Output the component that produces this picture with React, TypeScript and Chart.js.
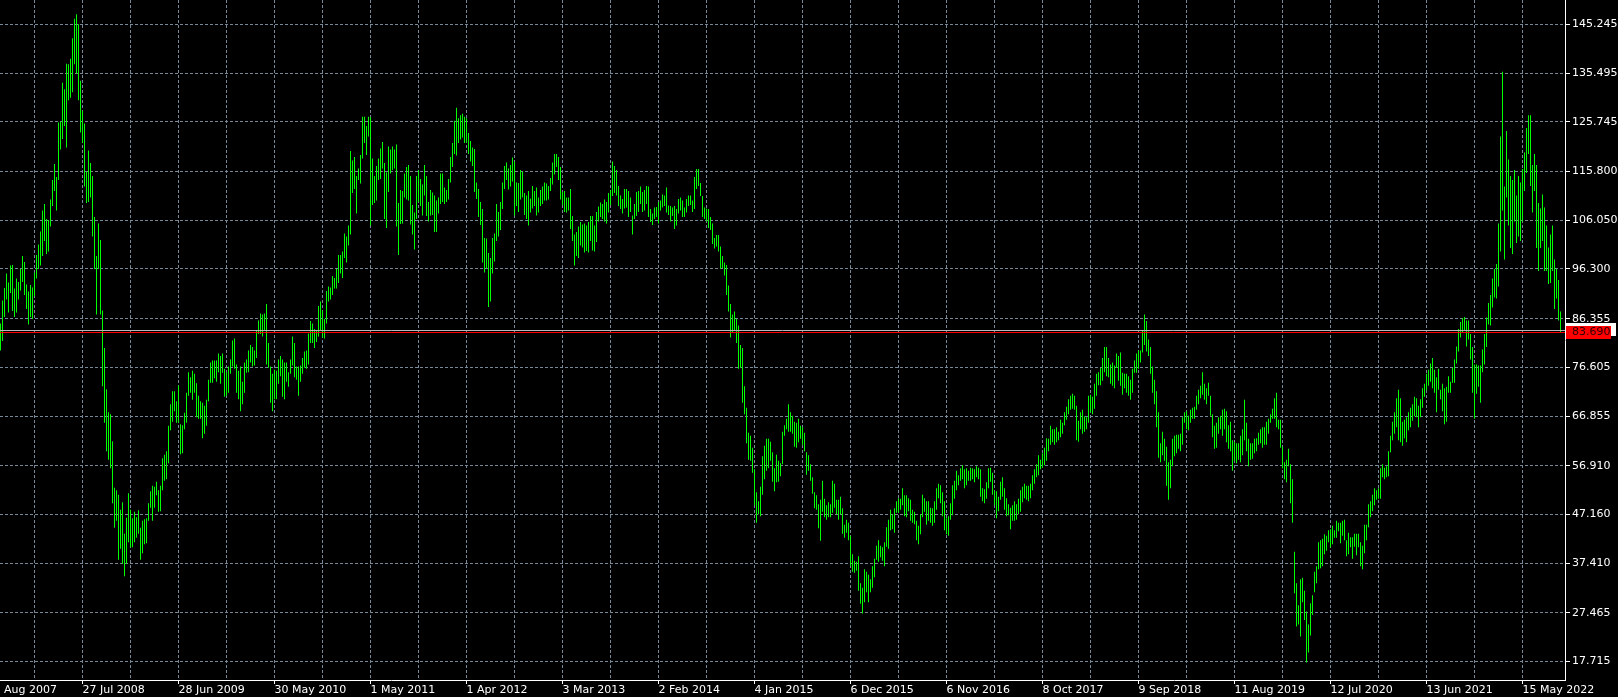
import React, { useEffect, useRef } from 'react';
import { Chart, registerables } from 'chart.js';

Chart.register(...registerables);

// Date labels on the time axis (one every 48 weekly bars, first one at bar -7)
const xTickLabels = [
  '26 Aug 2007', '27 Jul 2008', '28 Jun 2009', '30 May 2010', '1 May 2011', '1 Apr 2012',
  '3 Mar 2013', '2 Feb 2014', '4 Jan 2015', '6 Dec 2015', '6 Nov 2016', '8 Oct 2017',
  '9 Sep 2018', '11 Aug 2019', '12 Jul 2020', '13 Jun 2021', '15 May 2022',
];
const FIRST_LABEL_BAR = -7;
const GRID_STEP_BARS = 24;
const LABEL_STEP_BARS = 48;

// Price axis labels
const yTickLabels = [
  '145.245', '135.495', '125.745', '115.800', '106.050', '96.300', '86.355',
  '76.605', '66.855', '56.910', '47.160', '37.410', '27.465', '17.715',
];

// Weekly bar highs
const barHighs = [
  85.4, 90.0, 92.5, 95.4, 93.6, 97.0, 97.1, 92.4, 94.4, 93.7,
  96.3, 98.9, 97.7, 93.2, 91.8, 93.1, 92.6, 95.6, 99.1, 101.2,
  103.8, 108.0, 109.3, 106.3, 106.1, 110.2, 114.1, 117.3, 114.7, 125.6,
  125.8, 133.6, 132.3, 137.4, 137.3, 138.4, 142.5, 146.4, 147.3, 145.3,
  134.0, 128.0, 125.4, 115.8, 120.0, 117.5, 114.9, 106.7, 98.9, 105.4,
  102.1, 88.0, 80.5, 72.2, 67.6, 67.2, 61.8, 52.5, 52.0, 51.1,
  48.1, 49.6, 43.3, 46.5, 51.4, 48.1, 46.4, 47.7, 46.6, 48.0,
  44.5, 45.9, 46.2, 46.4, 49.4, 51.8, 52.9, 52.7, 53.7, 52.0,
  52.9, 58.4, 59.1, 59.8, 64.9, 69.2, 71.8, 71.8, 69.8, 73.0,
  65.2, 65.0, 67.5, 71.5, 75.6, 74.6, 75.9, 75.3, 73.4, 70.9,
  69.8, 69.5, 68.9, 70.1, 74.1, 77.6, 78.0, 78.0, 78.0, 79.4,
  78.9, 79.4, 76.3, 75.6, 76.8, 78.2, 82.0, 82.4, 77.2, 75.9,
  76.8, 73.7, 77.6, 78.2, 80.0, 81.1, 80.7, 80.0, 83.9, 86.0,
  87.4, 87.2, 87.4, 89.3, 81.5, 76.8, 75.3, 76.1, 75.9, 78.2,
  78.9, 78.2, 77.6, 77.6, 75.6, 78.2, 82.8, 81.5, 76.8, 76.8,
  77.0, 78.5, 79.8, 80.0, 83.4, 85.9, 85.4, 84.3, 84.1, 88.9,
  89.8, 88.0, 86.3, 91.9, 92.8, 92.6, 94.9, 94.5, 96.3, 99.1,
  99.1, 99.8, 103.4, 102.8, 105.0, 119.9, 118.0, 118.7, 114.9, 116.4,
  119.1, 126.8, 126.8, 124.9, 126.8, 126.7, 118.4, 114.9, 116.9, 118.4,
  120.4, 121.7, 117.5, 115.6, 120.8, 120.2, 120.8, 120.2, 121.2, 109.5,
  112.1, 111.9, 115.4, 116.7, 117.1, 114.9, 109.1, 107.6, 114.9, 116.1,
  114.3, 113.2, 117.1, 114.9, 109.7, 112.1, 111.6, 111.0, 110.0, 110.6,
  115.4, 115.4, 112.6, 112.1, 114.3, 118.7, 121.5, 126.0, 128.6, 126.5,
  127.1, 127.4, 126.8, 126.5, 123.5, 121.9, 120.6, 120.3, 113.6, 112.3,
  109.7, 108.3, 102.5, 102.4, 99.5, 98.5, 102.5, 103.4, 109.3, 107.7,
  109.7, 113.6, 116.9, 117.6, 116.4, 117.1, 118.6, 117.8, 113.6, 113.5,
  116.1, 115.8, 111.5, 111.0, 111.9, 110.4, 112.9, 111.9, 112.6, 110.6,
  112.1, 112.8, 113.6, 113.4, 112.9, 114.5, 117.6, 119.3, 119.3, 118.7,
  116.7, 111.7, 111.9, 110.6, 110.6, 112.3, 106.9, 103.2, 103.7, 104.8,
  105.7, 105.2, 105.4, 105.0, 105.7, 106.9, 106.9, 105.0, 107.7, 108.8,
  109.6, 109.3, 110.2, 109.7, 111.5, 112.1, 117.8, 116.9, 116.1, 112.9,
  111.0, 110.3, 112.3, 112.3, 111.9, 110.6, 107.0, 109.3, 111.7, 111.9,
  112.8, 111.7, 112.1, 112.9, 112.8, 108.3, 107.4, 108.6, 108.7, 109.7,
  110.0, 111.2, 111.0, 112.6, 109.0, 108.9, 108.6, 108.9, 108.3, 110.3,
  110.6, 110.0, 108.6, 110.3, 111.0, 111.0, 110.0, 114.7, 116.3, 116.3,
  113.5, 110.9, 108.6, 108.4, 108.3, 106.7, 105.4, 102.5, 103.1, 103.1,
  100.8, 98.9, 97.6, 97.1, 93.0, 89.3, 87.2, 87.8, 86.3, 85.0,
  81.1, 80.5, 72.8, 68.5, 63.5, 62.9, 60.5, 56.2, 51.6, 49.8,
  52.7, 58.8, 60.9, 62.3, 62.3, 61.7, 59.6, 56.4, 59.1, 57.9,
  57.4, 63.7, 65.0, 66.3, 69.2, 67.6, 66.9, 65.7, 65.5, 66.3,
  64.9, 64.6, 63.5, 59.6, 59.0, 57.2, 54.6, 51.6, 51.0, 49.2,
  50.1, 53.9, 50.3, 49.0, 49.6, 49.2, 53.9, 53.3, 50.1, 50.1,
  50.7, 48.4, 45.1, 46.1, 45.5, 42.9, 39.2, 37.9, 37.7, 38.8,
  33.4, 32.5, 36.2, 35.7, 35.1, 34.2, 36.8, 38.3, 40.9, 42.0,
  40.9, 40.6, 41.6, 44.6, 46.1, 48.1, 47.2, 48.4, 49.8, 50.4,
  50.3, 52.4, 51.0, 51.0, 50.4, 50.1, 48.1, 47.7, 45.9, 44.9,
  47.2, 51.1, 50.4, 49.8, 49.8, 48.5, 48.4, 49.8, 52.4, 53.3,
  53.0, 51.6, 49.8, 46.4, 46.8, 49.4, 53.0, 53.9, 55.9, 55.0,
  56.4, 57.0, 56.2, 56.4, 55.9, 56.5, 56.4, 56.2, 56.8, 56.5,
  56.2, 52.4, 52.2, 53.6, 56.4, 56.5, 55.5, 52.0, 51.8, 50.7,
  53.7, 54.6, 52.4, 50.4, 49.2, 48.5, 49.0, 49.8, 49.2, 50.3,
  52.0, 52.7, 53.3, 52.9, 52.9, 53.3, 55.0, 56.2, 57.2, 59.0,
  58.1, 59.4, 60.5, 62.4, 62.3, 64.9, 64.2, 64.2, 64.6, 63.7,
  66.1, 65.5, 67.6, 68.7, 70.2, 70.9, 71.3, 70.9, 68.9, 65.9,
  67.6, 68.1, 66.8, 66.6, 70.9, 71.1, 70.7, 73.3, 75.3, 75.6,
  76.5, 78.5, 80.7, 80.7, 78.5, 77.2, 77.6, 77.0, 79.4, 78.9,
  79.6, 75.5, 75.3, 75.3, 74.8, 74.1, 76.3, 78.0, 79.4, 80.0,
  80.0, 84.0, 87.2, 85.9, 82.2, 80.7, 76.8, 74.1, 71.8, 67.6,
  61.4, 63.7, 62.3, 60.7, 57.6, 58.1, 62.3, 62.9, 63.1, 63.1,
  63.3, 66.6, 67.6, 67.8, 66.9, 68.1, 68.5, 68.7, 70.9, 72.1,
  72.9, 75.6, 73.3, 72.4, 73.5, 70.9, 67.2, 64.9, 65.5, 66.6,
  66.9, 68.1, 68.3, 67.8, 65.0, 65.7, 62.0, 61.6, 61.4, 61.4,
  62.9, 64.2, 70.1, 65.5, 62.3, 61.4, 61.4, 62.3, 62.4, 63.5,
  64.2, 64.6, 64.6, 65.7, 66.3, 67.2, 68.3, 70.4, 71.5, 66.1,
  66.1, 60.7, 57.6, 58.1, 60.3, 57.2, 54.2, 39.7, 33.4, 29.0,
  34.2, 34.5, 31.9, 27.7, 25.1, 29.4, 31.0, 35.7, 36.8, 41.6,
  42.0, 42.3, 43.2, 42.9, 44.0, 44.2, 44.9, 44.0, 45.9, 45.5,
  45.5, 45.9, 46.1, 42.0, 43.5, 42.6, 42.6, 43.3, 43.3, 43.3,
  41.6, 40.9, 45.1, 45.1, 49.2, 49.8, 51.1, 52.4, 52.0, 52.4,
  56.4, 57.2, 56.5, 56.8, 59.8, 62.9, 65.7, 67.6, 70.4, 72.1,
  70.4, 65.7, 66.1, 66.6, 67.6, 68.5, 69.2, 70.7, 70.4, 68.9,
  70.2, 72.4, 73.3, 75.3, 76.1, 77.4, 78.5, 76.1, 74.6, 76.3,
  72.1, 73.3, 72.4, 72.7, 74.8, 73.7, 76.5, 78.2, 80.8, 84.3,
  85.7, 86.5, 86.7, 86.0, 86.0, 83.3, 80.7, 77.2, 77.2, 77.0,
  77.0, 80.2, 83.3, 86.6, 89.5, 91.1, 94.4, 96.3, 97.3, 105.4,
  122.8, 135.8, 112.8, 123.9, 118.2, 114.9, 114.1, 116.1, 111.0, 114.9,
  113.6, 116.3, 119.6, 124.5, 127.1, 127.1, 117.1, 119.3, 117.1, 109.5,
  108.4, 111.2, 108.6, 105.0, 100.6, 103.2, 105.0, 98.2, 96.3, 94.1,
  87.8,
];

// Weekly bar lows
const barLows = [
  80.0, 81.9, 86.7, 90.2, 87.6, 91.5, 87.9, 86.7, 87.6, 90.2,
  92.0, 93.7, 91.1, 88.3, 85.2, 86.7, 86.3, 90.9, 94.4, 96.3,
  97.0, 98.9, 101.9, 99.3, 99.8, 104.8, 108.9, 111.9, 108.0, 114.1,
  120.2, 122.3, 124.9, 120.6, 130.1, 130.6, 131.7, 137.3, 135.4, 130.1,
  123.6, 121.5, 112.8, 109.5, 109.7, 110.6, 102.8, 96.3, 87.2, 96.3,
  87.2, 72.8, 65.5, 59.8, 58.1, 56.4, 49.4, 44.5, 45.9, 38.1,
  40.3, 37.3, 34.8, 37.3, 41.6, 40.6, 40.6, 41.6, 42.5, 43.3,
  38.1, 39.4, 41.2, 41.4, 45.9, 48.5, 45.9, 48.5, 51.0, 47.7,
  47.8, 52.0, 53.9, 54.2, 57.4, 64.0, 65.7, 67.8, 65.5, 65.5,
  59.2, 59.4, 64.2, 65.5, 70.9, 71.5, 70.1, 71.5, 66.6, 66.3,
  66.3, 62.4, 63.3, 64.9, 69.8, 73.5, 73.5, 74.4, 73.7, 75.6,
  73.3, 75.5, 70.7, 70.9, 71.5, 75.3, 76.8, 76.3, 71.5, 70.2,
  67.8, 69.2, 71.5, 75.5, 75.6, 77.6, 76.8, 77.0, 78.5, 83.3,
  83.3, 82.8, 84.1, 77.2, 76.5, 69.5, 67.8, 70.2, 70.2, 73.3,
  74.8, 70.7, 70.2, 73.7, 72.7, 75.3, 77.0, 74.6, 74.1, 70.9,
  73.7, 75.3, 76.5, 76.3, 77.2, 81.5, 81.5, 80.5, 81.7, 82.8,
  84.1, 82.6, 82.4, 85.4, 89.8, 90.2, 91.1, 92.4, 92.4, 93.5,
  95.4, 94.5, 98.5, 97.6, 101.0, 103.2, 111.5, 112.3, 107.4, 114.1,
  113.4, 118.4, 121.5, 119.1, 122.8, 105.0, 109.1, 109.5, 110.0, 114.1,
  114.3, 116.4, 106.3, 104.5, 111.7, 115.4, 116.1, 116.4, 104.8, 99.1,
  105.3, 105.4, 110.6, 110.2, 110.0, 105.2, 103.2, 100.2, 106.3, 109.7,
  108.9, 107.0, 111.0, 106.9, 105.8, 107.0, 107.1, 103.7, 103.7, 107.4,
  109.3, 109.7, 109.3, 109.7, 110.2, 113.6, 116.7, 119.3, 119.0, 121.5,
  122.2, 122.6, 121.5, 121.6, 119.3, 117.8, 116.9, 111.7, 110.3, 106.7,
  105.1, 97.6, 95.6, 96.5, 88.7, 89.8, 95.4, 97.8, 101.9, 102.8,
  104.1, 108.3, 112.3, 114.1, 112.2, 112.8, 113.8, 107.0, 108.9, 107.7,
  110.2, 110.6, 107.1, 106.3, 105.0, 107.6, 108.4, 108.9, 107.0, 107.6,
  108.9, 109.3, 110.0, 110.0, 110.2, 111.9, 113.2, 115.2, 116.7, 114.1,
  110.2, 109.1, 107.7, 107.6, 108.0, 104.3, 101.9, 97.0, 98.9, 98.5,
  101.0, 100.6, 99.6, 99.9, 99.6, 101.9, 100.0, 99.8, 101.7, 105.8,
  106.7, 106.3, 105.8, 105.4, 107.6, 109.1, 110.9, 111.5, 111.0, 108.9,
  108.3, 107.4, 108.4, 108.6, 106.7, 107.7, 103.2, 106.3, 106.9, 107.7,
  109.3, 107.7, 108.0, 109.3, 106.7, 105.7, 105.1, 106.3, 106.7, 105.4,
  108.0, 108.6, 108.9, 107.6, 107.1, 105.8, 106.9, 104.3, 105.0, 107.4,
  108.0, 106.7, 106.7, 107.6, 108.9, 109.1, 107.7, 108.3, 112.3, 112.9,
  110.9, 106.7, 106.3, 105.8, 104.5, 104.1, 101.3, 100.4, 100.8, 99.8,
  96.3, 96.5, 95.0, 91.1, 87.8, 82.6, 83.7, 84.0, 81.5, 76.3,
  76.5, 69.5, 67.2, 61.4, 58.1, 57.9, 55.5, 49.0, 45.5, 47.2,
  46.8, 51.1, 54.2, 55.9, 56.4, 57.9, 53.7, 51.8, 53.6, 53.7,
  54.8, 57.2, 62.9, 64.2, 63.7, 63.7, 63.3, 60.7, 60.5, 61.6,
  62.3, 61.1, 59.8, 55.1, 55.9, 53.9, 51.3, 48.4, 48.1, 44.4,
  41.9, 47.7, 46.6, 46.1, 46.6, 46.6, 47.5, 48.5, 47.2, 46.1,
  47.2, 43.3, 42.5, 43.5, 42.0, 36.8, 35.7, 35.5, 35.9, 31.9,
  29.3, 27.3, 29.6, 31.6, 29.6, 31.6, 32.5, 34.6, 38.1, 37.7,
  38.6, 37.9, 36.8, 40.7, 40.3, 44.0, 44.2, 43.5, 47.5, 47.5,
  48.1, 49.0, 46.8, 46.6, 47.8, 45.9, 45.5, 45.2, 42.0, 41.2,
  43.2, 46.6, 47.7, 45.1, 45.9, 45.5, 44.9, 45.5, 48.1, 50.4,
  49.4, 46.8, 44.0, 43.2, 42.9, 46.1, 47.0, 50.3, 52.0, 53.0,
  53.9, 54.2, 52.4, 53.0, 53.9, 53.9, 54.2, 53.6, 54.6, 54.2,
  50.7, 49.8, 49.4, 50.3, 52.4, 53.7, 51.1, 49.0, 46.4, 47.8,
  50.1, 50.7, 48.1, 46.8, 47.0, 44.2, 45.9, 45.9, 46.1, 47.2,
  47.7, 49.6, 50.4, 50.1, 49.8, 50.4, 52.0, 53.3, 54.6, 55.0,
  56.2, 56.5, 57.0, 57.9, 59.8, 61.1, 61.6, 61.1, 61.6, 62.0,
  62.6, 63.3, 65.0, 66.1, 67.2, 68.1, 68.3, 68.1, 62.0, 61.7,
  64.2, 63.3, 63.7, 64.2, 65.5, 67.6, 67.2, 68.3, 70.9, 73.0,
  73.0, 73.9, 75.6, 74.8, 74.6, 73.3, 72.9, 72.4, 76.5, 73.9,
  72.9, 71.1, 72.4, 71.5, 70.9, 70.1, 71.5, 75.5, 75.5, 76.3,
  77.6, 79.6, 81.1, 79.8, 78.9, 75.3, 71.5, 69.2, 64.6, 58.5,
  57.6, 59.0, 57.9, 52.9, 50.1, 52.4, 56.8, 58.8, 59.4, 60.3,
  59.8, 61.1, 65.5, 64.2, 64.0, 65.5, 66.3, 66.3, 68.1, 69.2,
  70.4, 71.1, 70.1, 69.2, 70.9, 66.9, 62.6, 60.3, 60.5, 63.3,
  64.2, 62.9, 64.2, 61.6, 60.3, 59.8, 55.9, 57.9, 57.4, 58.1,
  57.6, 59.0, 62.0, 59.8, 56.8, 58.1, 58.3, 59.4, 59.8, 61.1,
  61.4, 60.5, 61.1, 61.1, 63.3, 65.5, 66.3, 66.3, 64.6, 64.2,
  60.5, 56.4, 54.2, 53.6, 56.8, 49.4, 45.5, 31.4, 24.7, 25.1,
  22.7, 29.6, 26.0, 17.5, 19.5, 22.9, 27.0, 31.6, 33.4, 36.2,
  36.4, 36.8, 39.2, 39.9, 41.6, 40.6, 41.2, 42.5, 42.5, 43.8,
  41.4, 42.9, 42.0, 38.8, 39.2, 40.6, 38.3, 40.7, 39.0, 40.6,
  36.8, 36.2, 39.4, 42.0, 44.6, 46.6, 47.8, 49.0, 50.1, 50.3,
  50.3, 54.6, 54.2, 54.6, 54.8, 59.6, 62.0, 63.3, 64.6, 62.0,
  61.6, 60.9, 62.4, 61.6, 64.0, 64.6, 65.9, 66.8, 66.6, 64.6,
  66.6, 68.5, 70.7, 72.0, 72.9, 73.7, 72.4, 71.5, 67.6, 72.1,
  70.2, 67.8, 65.2, 65.7, 71.5, 71.5, 73.5, 73.5, 77.4, 79.8,
  82.6, 83.7, 84.1, 80.8, 82.2, 78.2, 71.5, 66.3, 71.3, 72.7,
  69.5, 75.6, 77.2, 80.7, 85.2, 85.0, 88.6, 90.6, 90.4, 92.8,
  99.8, 108.0, 98.2, 110.6, 105.0, 100.5, 99.3, 105.8, 101.5, 102.8,
  101.9, 105.8, 111.9, 115.5, 119.3, 112.9, 107.6, 111.9, 100.5, 95.9,
  100.5, 101.9, 95.9, 95.9, 93.3, 93.5, 95.9, 88.3, 90.4, 86.0,
  83.6,
];

const lastPrice = 83.69;
const lastPriceLabel = '83.690';
const secondLinePrice = 84.0;

const BG = '#000000';
const BAR_COLOR = '#00FF00';
const GRID_COLOR = '#778899';
const FONT = "'DejaVu Sans'";

const priceLinesPlugin = {
  id: 'priceLines',
  afterDatasetsDraw(chart: any) {
    const { ctx, chartArea, scales } = chart;
    const y = scales.y;
    const gy = Math.round(y.getPixelForValue(secondLinePrice)) + 0.5;
    const ry = Math.round(y.getPixelForValue(lastPrice)) + 0.5;
    ctx.save();
    ctx.lineWidth = 1;
    ctx.setLineDash([]);
    ctx.strokeStyle = '#B8B8B8';
    ctx.beginPath();
    ctx.moveTo(chartArea.left, gy);
    ctx.lineTo(chartArea.right, gy);
    ctx.stroke();
    ctx.strokeStyle = '#FF0000';
    ctx.beginPath();
    ctx.moveTo(chartArea.left, ry);
    ctx.lineTo(chartArea.right, ry);
    ctx.stroke();
    ctx.restore();
  },
  afterDraw(chart: any) {
    const { ctx, chartArea, scales } = chart;
    const y = scales.y;
    const gRow = Math.round(y.getPixelForValue(secondLinePrice));
    const rRow = Math.round(y.getPixelForValue(lastPrice));
    const x0 = chartArea.right + 1;
    ctx.save();
    ctx.fillStyle = '#FFFFFF';
    ctx.fillRect(x0, gRow - 7, 50, 13);
    ctx.fillStyle = '#FF0000';
    ctx.fillRect(x0, rRow - 6, 45, 13);
    ctx.fillStyle = '#2A0000';
    ctx.font = `11px ${FONT}`;
    ctx.textAlign = 'left';
    ctx.textBaseline = 'middle';
    ctx.fillText(lastPriceLabel, chartArea.right + 7, rRow + 0.5);
    ctx.restore();
  },
};

export default function App() {
  const canvasRef = useRef<HTMLCanvasElement>(null);

  useEffect(() => {
    document.body.style.margin = '0';
    document.body.style.background = BG;
    const canvas = canvasRef.current;
    if (!canvas) return;

    const points = barHighs.map((h, i) => ({ x: i, y: [barLows[i], h] }));
    const yValues = yTickLabels.map((s) => parseFloat(s));

    const chart = new Chart(canvas, {
      type: 'bar',
      data: {
        datasets: [
          {
            data: points as any,
            backgroundColor: BAR_COLOR,
            borderWidth: 0,
            barThickness: 1,
            inflateAmount: 0,
          } as any,
        ],
      },
      options: {
        animation: false,
        responsive: false,
        maintainAspectRatio: false,
        events: [],
        layout: { padding: 0 },
        plugins: {
          legend: { display: false },
          title: { display: false },
          tooltip: { enabled: false },
        },
        font: { family: FONT, size: 11 } as any,
        scales: {
          x: {
            type: 'linear',
            position: 'bottom',
            min: -0.25,
            max: 782.25,
            offset: false,
            bounds: 'data',
            grid: {
              offset: false,
              color: GRID_COLOR,
              lineWidth: 1,
              drawTicks: true,
              tickLength: 4,
              tickColor: (c: any) =>
                c.tick && (c.tick.value - FIRST_LABEL_BAR) % LABEL_STEP_BARS === 0 ? '#FFFFFF' : 'rgba(0,0,0,0)',
            },
            border: { display: true, color: '#FFFFFF', width: 1, dash: [3, 2] },
            ticks: {
              autoSkip: false,
              maxRotation: 0,
              minRotation: 0,
              align: 'start',
              padding: 0,
              color: '#FFFFFF',
              font: { family: FONT, size: 11 },
              callback: (value: any) => {
                const d = Number(value) - FIRST_LABEL_BAR;
                return d % LABEL_STEP_BARS === 0 ? xTickLabels[d / LABEL_STEP_BARS] ?? '' : '';
              },
            },
            afterBuildTicks: (scale: any) => {
              const t: any[] = [];
              for (let v = FIRST_LABEL_BAR; v < barHighs.length; v += GRID_STEP_BARS) t.push({ value: v });
              scale.ticks = t;
            },
            afterFit: (scale: any) => {
              scale.height = 17;
              scale.paddingLeft = 0;
              scale.paddingRight = 0;
              scale.paddingTop = 0;
              scale.paddingBottom = 0;
            },
          } as any,
          y: {
            type: 'linear',
            position: 'right',
            min: 14.011,
            max: 150.15,
            bounds: 'data',
            grid: {
              color: GRID_COLOR,
              lineWidth: 1,
              drawTicks: true,
              tickLength: 5,
              tickColor: '#FFFFFF',
            },
            border: { display: true, color: '#FFFFFF', width: 1, dash: [3, 2] },
            ticks: {
              autoSkip: false,
              padding: 2,
              color: '#FFFFFF',
              font: { family: FONT, size: 11 },
              callback: (value: any) => Number(value).toFixed(3),
            },
            afterBuildTicks: (scale: any) => {
              scale.ticks = yValues.slice().reverse().map((v) => ({ value: v }));
            },
            afterFit: (scale: any) => {
              scale.width = 53;
              scale.paddingLeft = 0;
              scale.paddingRight = 0;
              scale.paddingTop = 0;
              scale.paddingBottom = 0;
            },
          } as any,
        },
      } as any,
      plugins: [priceLinesPlugin],
    });

    return () => chart.destroy();
  }, []);

  return (
    <div style={{ position: 'fixed', left: 0, top: 0, width: 1618, height: 697, background: BG }}>
      <canvas ref={canvasRef} width={1618} height={697} style={{ display: 'block' }} />
    </div>
  );
}
